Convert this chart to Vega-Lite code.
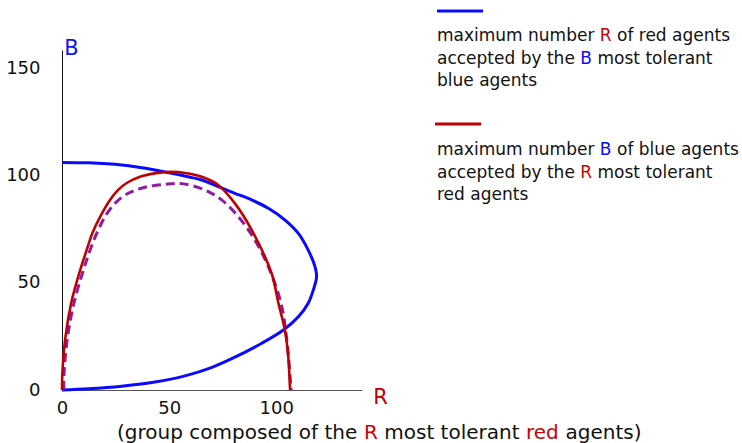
{
  "$schema": "https://vega.github.io/schema/vega-lite/v6.json",
  "width": 300,
  "height": 340,
  "autosize": {"type": "none"},
  "padding": {"left": 62, "top": 50, "right": 380, "bottom": 53},
  "background": "white",
  "config": {
    "view": {"stroke": null},
    "text": {"font": "DejaVu Sans", "fontSize": 17, "align": "left", "baseline": "alphabetic", "color": "#111111"}
  },
  "datasets": {
    "curves": [
      {"curve": "blue", "i": 0, "R": 0, "B": 106.2},
      {"curve": "blue", "i": 1, "R": 12.3, "B": 106.0},
      {"curve": "blue", "i": 2, "R": 27.8, "B": 105.0},
      {"curve": "blue", "i": 3, "R": 43.4, "B": 102.7},
      {"curve": "blue", "i": 4, "R": 58.9, "B": 99.5},
      {"curve": "blue", "i": 5, "R": 65.2, "B": 98.0},
      {"curve": "blue", "i": 6, "R": 72.9, "B": 94.9},
      {"curve": "blue", "i": 7, "R": 80.7, "B": 91.8},
      {"curve": "blue", "i": 8, "R": 88.5, "B": 88.7},
      {"curve": "blue", "i": 9, "R": 96.3, "B": 84.8},
      {"curve": "blue", "i": 10, "R": 104.1, "B": 79.3},
      {"curve": "blue", "i": 11, "R": 110.3, "B": 73.1},
      {"curve": "blue", "i": 12, "R": 114.9, "B": 65.3},
      {"curve": "blue", "i": 13, "R": 118.1, "B": 57.5},
      {"curve": "blue", "i": 14, "R": 118.8, "B": 52.9},
      {"curve": "blue", "i": 15, "R": 117.3, "B": 46.7},
      {"curve": "blue", "i": 16, "R": 114.9, "B": 40.5},
      {"curve": "blue", "i": 17, "R": 110.3, "B": 34.2},
      {"curve": "blue", "i": 18, "R": 103.3, "B": 28.0},
      {"curve": "blue", "i": 19, "R": 93.2, "B": 21.8},
      {"curve": "blue", "i": 20, "R": 79.2, "B": 14.6},
      {"curve": "blue", "i": 21, "R": 70.0, "B": 10.6},
      {"curve": "blue", "i": 22, "R": 57.4, "B": 6.6},
      {"curve": "blue", "i": 23, "R": 43.4, "B": 3.7},
      {"curve": "blue", "i": 24, "R": 27.8, "B": 1.8},
      {"curve": "blue", "i": 25, "R": 12.3, "B": 0.6},
      {"curve": "blue", "i": 26, "R": 0, "B": 0},

      {"curve": "red", "i": 0, "R": 0, "B": 0},
      {"curve": "red", "i": 1, "R": 0.25, "B": 9.3},
      {"curve": "red", "i": 2, "R": 1.6, "B": 24.7},
      {"curve": "red", "i": 3, "R": 4.3, "B": 40.6},
      {"curve": "red", "i": 4, "R": 8.2, "B": 55.0},
      {"curve": "red", "i": 5, "R": 11.5, "B": 65.3},
      {"curve": "red", "i": 6, "R": 14.2, "B": 73.3},
      {"curve": "red", "i": 7, "R": 17.7, "B": 80.7},
      {"curve": "red", "i": 8, "R": 22.4, "B": 88.7},
      {"curve": "red", "i": 9, "R": 26.1, "B": 93.3},
      {"curve": "red", "i": 10, "R": 30.2, "B": 96.6},
      {"curve": "red", "i": 11, "R": 36.4, "B": 99.5},
      {"curve": "red", "i": 12, "R": 44.0, "B": 101.2},
      {"curve": "red", "i": 13, "R": 51.0, "B": 101.8},
      {"curve": "red", "i": 14, "R": 57.4, "B": 101.3},
      {"curve": "red", "i": 15, "R": 65.2, "B": 99.5},
      {"curve": "red", "i": 16, "R": 72.9, "B": 95.7},
      {"curve": "red", "i": 17, "R": 80.7, "B": 87.1},
      {"curve": "red", "i": 18, "R": 88.5, "B": 74.7},
      {"curve": "red", "i": 19, "R": 97.8, "B": 54.5},
      {"curve": "red", "i": 20, "R": 101.0, "B": 40.5},
      {"curve": "red", "i": 21, "R": 104.0, "B": 28.0},
      {"curve": "red", "i": 22, "R": 105.6, "B": 15.6},
      {"curve": "red", "i": 23, "R": 106.4, "B": 1.0},
      {"curve": "red", "i": 24, "R": 106.5, "B": 0},

      {"curve": "purple", "i": 0, "R": 0.8, "B": 0},
      {"curve": "purple", "i": 1, "R": 1.05, "B": 9.3},
      {"curve": "purple", "i": 2, "R": 2.6, "B": 24.7},
      {"curve": "purple", "i": 3, "R": 5.6, "B": 40.6},
      {"curve": "purple", "i": 4, "R": 10.0, "B": 56.0},
      {"curve": "purple", "i": 5, "R": 13.1, "B": 65.3},
      {"curve": "purple", "i": 6, "R": 16.2, "B": 73.1},
      {"curve": "purple", "i": 7, "R": 20.1, "B": 80.9},
      {"curve": "purple", "i": 8, "R": 24.7, "B": 87.1},
      {"curve": "purple", "i": 9, "R": 30.9, "B": 91.8},
      {"curve": "purple", "i": 10, "R": 38.7, "B": 94.6},
      {"curve": "purple", "i": 11, "R": 48.0, "B": 96.0},
      {"curve": "purple", "i": 12, "R": 56.0, "B": 96.3},
      {"curve": "purple", "i": 13, "R": 66.7, "B": 93.3},
      {"curve": "purple", "i": 14, "R": 74.5, "B": 88.7},
      {"curve": "purple", "i": 15, "R": 82.3, "B": 80.9},
      {"curve": "purple", "i": 16, "R": 90.0, "B": 70.0},
      {"curve": "purple", "i": 17, "R": 96.3, "B": 57.5},
      {"curve": "purple", "i": 18, "R": 102.2, "B": 40.5},
      {"curve": "purple", "i": 19, "R": 104.9, "B": 23.4},
      {"curve": "purple", "i": 20, "R": 106.9, "B": 0}
    ]
  },
  "layer": [
    {
      "data": {"name": "curves"},
      "transform": [{"filter": "datum.curve === 'blue'"}],
      "mark": {"type": "line", "color": "#0a0aff", "strokeWidth": 3, "interpolate": "catmull-rom"},
      "encoding": {
        "x": {
          "field": "R", "type": "quantitative",
          "scale": {"domain": [0, 140], "nice": false, "zero": false},
          "axis": {
            "title": "R", "titleColor": "#c00000", "titleFont": "DejaVu Sans", "titleFontSize": 21, "titleFontWeight": "normal",
            "titleAngle": 0, "titleX": 318, "titleY": 7, "titleAlign": "center", "titleBaseline": "middle",
            "values": [0, 50, 100], "ticks": false, "labelPadding": 9, "labelFlush": false,
            "labelFont": "DejaVu Sans", "labelFontSize": 18, "labelColor": "#111111",
            "domainColor": "#555555", "domainWidth": 1, "grid": false
          }
        },
        "y": {
          "field": "B", "type": "quantitative",
          "scale": {"domain": [0, 158.66], "nice": false, "zero": false},
          "axis": {
            "title": "B", "titleColor": "#1010f0", "titleFont": "DejaVu Sans", "titleFontSize": 21, "titleFontWeight": "normal",
            "titleAngle": 0, "titleX": 9, "titleY": -2, "titleAlign": "center", "titleBaseline": "middle",
            "values": [0, 50, 100, 150], "ticks": false, "labelPadding": 22, "labelFlush": false,
            "labelFont": "DejaVu Sans", "labelFontSize": 18, "labelColor": "#111111",
            "domainColor": "#111111", "domainWidth": 1, "grid": false
          }
        },
        "order": {"field": "i", "type": "quantitative"}
      }
    },
    {
      "data": {"name": "curves"},
      "transform": [{"filter": "datum.curve === 'purple'"}],
      "mark": {"type": "line", "color": "#8e1aa6", "strokeWidth": 3, "strokeDash": [9, 5], "interpolate": "catmull-rom"},
      "encoding": {
        "x": {"field": "R", "type": "quantitative"},
        "y": {"field": "B", "type": "quantitative"},
        "order": {"field": "i", "type": "quantitative"}
      }
    },
    {
      "data": {"name": "curves"},
      "transform": [{"filter": "datum.curve === 'red'"}],
      "mark": {"type": "line", "color": "#c00000", "strokeWidth": 2.6, "interpolate": "catmull-rom"},
      "encoding": {
        "x": {"field": "R", "type": "quantitative"},
        "y": {"field": "B", "type": "quantitative"},
        "order": {"field": "i", "type": "quantitative"}
      }
    },

    {
      "data": {"values": [{}]},
      "mark": {"type": "rule", "color": "#0a0aff", "strokeWidth": 3},
      "encoding": {
        "x": {"datum": 175.0, "type": "quantitative"},
        "x2": {"datum": 196.5},
        "y": {"datum": 176.9, "type": "quantitative"}
      }
    },
    {
      "data": {"values": [{}]},
      "mark": {"type": "rule", "color": "#c00000", "strokeWidth": 3},
      "encoding": {
        "x": {"datum": 174.1, "type": "quantitative"},
        "x2": {"datum": 195.6},
        "y": {"datum": 124.1, "type": "quantitative"}
      }
    },

    {"data": {"values": [{}]}, "mark": {"type": "text", "text": "maximum number"},
     "encoding": {"x": {"datum": 175.0, "type": "quantitative"}, "y": {"datum": 162.9, "type": "quantitative"}}},
    {"data": {"values": [{}]}, "mark": {"type": "text", "text": "R", "color": "#cc0000"},
     "encoding": {"x": {"datum": 251.0, "type": "quantitative"}, "y": {"datum": 162.9, "type": "quantitative"}}},
    {"data": {"values": [{}]}, "mark": {"type": "text", "text": "of red agents"},
     "encoding": {"x": {"datum": 259.0, "type": "quantitative"}, "y": {"datum": 162.9, "type": "quantitative"}}},
    {"data": {"values": [{}]}, "mark": {"type": "text", "text": "accepted by the"},
     "encoding": {"x": {"datum": 175.0, "type": "quantitative"}, "y": {"datum": 152.1, "type": "quantitative"}}},
    {"data": {"values": [{}]}, "mark": {"type": "text", "text": "B", "color": "#0a0aff"},
     "encoding": {"x": {"datum": 241.9, "type": "quantitative"}, "y": {"datum": 152.1, "type": "quantitative"}}},
    {"data": {"values": [{}]}, "mark": {"type": "text", "text": "most tolerant"},
     "encoding": {"x": {"datum": 249.9, "type": "quantitative"}, "y": {"datum": 152.1, "type": "quantitative"}}},
    {"data": {"values": [{}]}, "mark": {"type": "text", "text": "blue agents"},
     "encoding": {"x": {"datum": 175.0, "type": "quantitative"}, "y": {"datum": 141.9, "type": "quantitative"}}},

    {"data": {"values": [{}]}, "mark": {"type": "text", "text": "maximum number"},
     "encoding": {"x": {"datum": 175.0, "type": "quantitative"}, "y": {"datum": 109.7, "type": "quantitative"}}},
    {"data": {"values": [{}]}, "mark": {"type": "text", "text": "B", "color": "#0a0aff"},
     "encoding": {"x": {"datum": 251.0, "type": "quantitative"}, "y": {"datum": 109.7, "type": "quantitative"}}},
    {"data": {"values": [{}]}, "mark": {"type": "text", "text": "of blue agents"},
     "encoding": {"x": {"datum": 259.0, "type": "quantitative"}, "y": {"datum": 109.7, "type": "quantitative"}}},
    {"data": {"values": [{}]}, "mark": {"type": "text", "text": "accepted by the"},
     "encoding": {"x": {"datum": 175.0, "type": "quantitative"}, "y": {"datum": 98.9, "type": "quantitative"}}},
    {"data": {"values": [{}]}, "mark": {"type": "text", "text": "R", "color": "#cc0000"},
     "encoding": {"x": {"datum": 241.9, "type": "quantitative"}, "y": {"datum": 98.9, "type": "quantitative"}}},
    {"data": {"values": [{}]}, "mark": {"type": "text", "text": "most tolerant"},
     "encoding": {"x": {"datum": 249.9, "type": "quantitative"}, "y": {"datum": 98.9, "type": "quantitative"}}},
    {"data": {"values": [{}]}, "mark": {"type": "text", "text": "red agents"},
     "encoding": {"x": {"datum": 175.0, "type": "quantitative"}, "y": {"datum": 88.7, "type": "quantitative"}}},

    {"data": {"values": [{}]}, "mark": {"type": "text", "text": "(group composed of the", "fontSize": 20},
     "encoding": {"x": {"datum": 25.7, "type": "quantitative"}, "y": {"datum": -22.9, "type": "quantitative"}}},
    {"data": {"values": [{}]}, "mark": {"type": "text", "text": "R", "fontSize": 20, "color": "#cc0000"},
     "encoding": {"x": {"datum": 140.9, "type": "quantitative"}, "y": {"datum": -22.9, "type": "quantitative"}}},
    {"data": {"values": [{}]}, "mark": {"type": "text", "text": "most tolerant", "fontSize": 20},
     "encoding": {"x": {"datum": 150.4, "type": "quantitative"}, "y": {"datum": -22.9, "type": "quantitative"}}},
    {"data": {"values": [{}]}, "mark": {"type": "text", "text": "red", "fontSize": 20, "color": "#cc0000"},
     "encoding": {"x": {"datum": 216.5, "type": "quantitative"}, "y": {"datum": -22.9, "type": "quantitative"}}},
    {"data": {"values": [{}]}, "mark": {"type": "text", "text": "agents)", "fontSize": 20},
     "encoding": {"x": {"datum": 235.0, "type": "quantitative"}, "y": {"datum": -22.9, "type": "quantitative"}}}
  ]
}
